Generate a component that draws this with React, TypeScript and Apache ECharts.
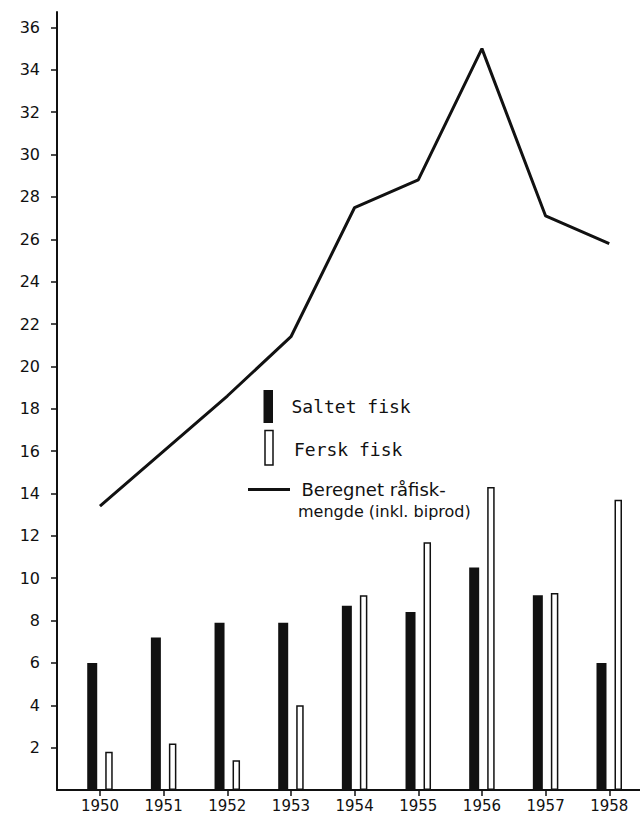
import React, { useEffect, useRef } from 'react';
import * as echarts from 'echarts';

// ---- data ----
const years = [1950, 1951, 1952, 1953, 1954, 1955, 1956, 1957, 1958];
const yearLabels = ['1950', '1951', '1952', '1953', '1954', '1955', '1956', '1957', '1958'];
const yTickValues = [2, 4, 6, 8, 10, 12, 14, 16, 18, 20, 22, 24, 26, 28, 30, 32, 34, 36];
const saltetFisk = [6.0, 7.2, 7.9, 7.9, 8.7, 8.4, 10.5, 9.2, 6.0];
const ferskFisk = [1.8, 2.2, 1.4, 4.0, 9.2, 11.7, 14.3, 9.3, 13.7];
const raafiskMengde = [13.4, 16.0, 18.6, 21.4, 27.5, 28.8, 35.0, 27.1, 25.8];

const legendSaltet = 'Saltet fisk';
const legendFersk = 'Fersk fisk';
const legendLine1 = 'Beregnet råfisk-';
const legendLine2 = 'mengde (inkl. biprod)';

const INK = '#111111';
const SANS = '"DejaVu Sans", sans-serif';
const MONO = '"DejaVu Sans Mono", monospace';

export default function App() {
  const ref = useRef<HTMLDivElement>(null);

  useEffect(() => {
    if (!ref.current) return;
    const chart = echarts.init(ref.current, undefined, { renderer: 'svg' });

    const pairs = (vals: number[]) => years.map((y, i) => [y, vals[i]]);

    chart.setOption({
      animation: false,
      backgroundColor: '#ffffff',
      grid: {
        left: 57,
        right: 0,
        top: 12,
        bottom: 26,
        containLabel: false,
        outerBoundsMode: 'none',
      },
      xAxis: {
        type: 'value',
        min: 1949.325,
        max: 1958.483,
        position: 'bottom',
        axisLine: { show: true, onZero: false, lineStyle: { color: INK, width: 2 } },
        axisTick: {
          show: true,
          customValues: years,
          length: 6,
          inside: false,
          lineStyle: { color: INK, width: 1.5 },
        },
        axisLabel: {
          show: true,
          customValues: years,
          margin: 8,
          color: INK,
          fontFamily: SANS,
          fontSize: 15,
          formatter: (v: number) => {
            const i = years.indexOf(Math.round(v));
            return i >= 0 ? yearLabels[i] : '';
          },
        },
        splitLine: { show: false },
      },
      yAxis: {
        type: 'value',
        min: 0,
        max: 36.73,
        axisLine: { show: true, onZero: false, lineStyle: { color: INK, width: 2 } },
        axisTick: {
          show: true,
          customValues: yTickValues,
          length: 6,
          inside: false,
          lineStyle: { color: INK, width: 1.5 },
        },
        axisLabel: {
          show: true,
          customValues: yTickValues,
          margin: 17,
          color: INK,
          fontFamily: SANS,
          fontSize: 16,
          formatter: (v: number) => String(v),
        },
        splitLine: { show: false },
      },
      series: [
        {
          name: legendSaltet,
          type: 'bar',
          data: pairs(saltetFisk),
          barWidth: 10,
          barGap: '80%',
          itemStyle: { color: INK },
          z: 2,
        },
        {
          name: legendFersk,
          type: 'bar',
          data: pairs(ferskFisk),
          barWidth: 7.5,
          barGap: '80%',
          itemStyle: { color: '#ffffff', borderColor: INK, borderWidth: 1.5 },
          z: 2,
        },
        {
          name: legendLine1 + legendLine2,
          type: 'line',
          data: pairs(raafiskMengde),
          symbol: 'none',
          lineStyle: { color: INK, width: 3 },
          z: 3,
        },
      ],
      graphic: [
        {
          type: 'rect',
          shape: { x: 263.5, y: 390, width: 9.5, height: 33 },
          style: { fill: INK },
        },
        {
          type: 'text',
          x: 291.5,
          y: 406,
          style: {
            text: legendSaltet,
            fill: INK,
            font: `18px ${MONO}`,
            verticalAlign: 'middle',
            align: 'left',
          },
        },
        {
          type: 'rect',
          shape: { x: 265, y: 430.5, width: 8, height: 34.5 },
          style: { fill: '#ffffff', stroke: INK, lineWidth: 1.5 },
        },
        {
          type: 'text',
          x: 294,
          y: 449.5,
          style: {
            text: legendFersk,
            fill: INK,
            font: `18px ${MONO}`,
            verticalAlign: 'middle',
            align: 'left',
          },
        },
        {
          type: 'line',
          shape: { x1: 248, y1: 489.5, x2: 290, y2: 489.5 },
          style: { stroke: INK, lineWidth: 3 },
        },
        {
          type: 'text',
          x: 301.5,
          y: 489.5,
          style: {
            text: legendLine1,
            fill: INK,
            font: `18px ${SANS}`,
            verticalAlign: 'middle',
            align: 'left',
          },
        },
        {
          type: 'text',
          x: 298,
          y: 511,
          style: {
            text: legendLine2,
            fill: INK,
            font: `16px ${SANS}`,
            verticalAlign: 'middle',
            align: 'left',
          },
        },
      ],
    });

    return () => {
      chart.dispose();
    };
  }, []);

  return (
    <div
      ref={ref}
      style={{ position: 'absolute', left: 0, top: 0, width: 640, height: 816, background: '#fff' }}
    />
  );
}
